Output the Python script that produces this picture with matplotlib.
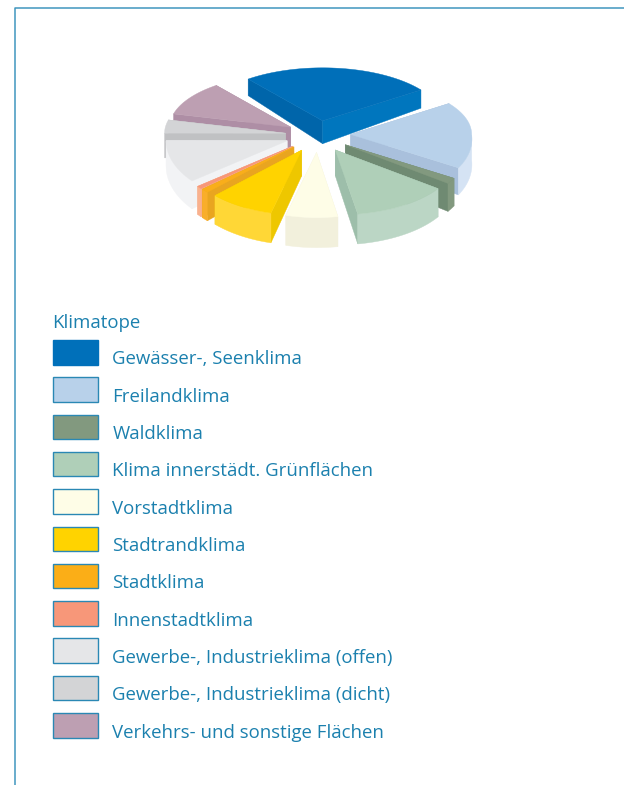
import numpy as np
import matplotlib
matplotlib.use('Agg')
import matplotlib.pyplot as plt
from matplotlib.patches import Polygon, Rectangle

title = 'Klimatope'
labels = ['Gewässer-, Seenklima', 'Freilandklima', 'Waldklima', 'Klima innerstädt. Grünflächen',
          'Vorstadtklima', 'Stadtrandklima', 'Stadtklima', 'Innenstadtklima',
          'Gewerbe-, Industrieklima (offen)', 'Gewerbe-, Industrieklima (dicht)',
          'Verkehrs- und sonstige Flächen']
# estimated shares in percent
shares = [25.6, 18.5, 1.5, 12.2, 6.7, 8.6, 1.0, 0.7, 10.6, 4.0, 10.4]

top_colors = ['#006FB9', '#B8D1EA', '#82997F', '#AFCFB8', '#FEFDE7', '#FFD300',
              '#F9AE1A', '#F79779', '#E5E6E8', '#D3D4D6', '#BD9FB2']
rim_colors = ['#0078C0', '#D5E3F4', '#82997F', '#BBD6C5', '#F2F0DC', '#FFD736',
              '#F9AE2A', '#F9B18E', '#F2F3F5', '#D3D4D6', '#BD9FB2']
side_colors = ['#0065AA', '#A9C0DC', '#6F8A72', '#9DBEAA', '#F2F0DC', '#EEC700',
               '#E9A520', '#F9B18E', '#F2F3F5', '#C0C1C3', '#AE8EA5']
end_side_colors = ['#0076BE', '#A9C0DC', '#6F8A72', '#9DBEAA', '#F2F0DC', '#EEC700',
                   '#E9A520', '#F9B18E', '#F2F3F5', '#C0C1C3', '#AE8EA5']
swatch_colors = ['#0070BA', '#B8D1EA', '#82997F', '#AFCFB8', '#FEFDE7', '#FFD300',
                 '#FBAE17', '#F79779', '#E5E6E8', '#D3D4D6', '#BD9FB2']
draw_order = [0, 10, 1, 9, 8, 2, 3, 7, 6, 5, 4]

start_angle = 128
explode = 0.27
cx, cy = 318, 135
rx, ry_back, ry_front = 121, 53, 65
text_color = '#1B80AE'
frame_color = '#4096BE'


def project(px, py):
    px, py = np.asarray(px, float), np.asarray(py, float)
    # front right of the pie is a little wider, the picture is not a clean ellipse
    x = cx + rx * px * np.where(px > 0, 1 - 0.06 * np.minimum(py, 0), 1)
    y = cy - py * np.where(py > 0, ry_back, ry_front)
    return x, y


def depth(py):
    py = np.asarray(py, float)
    return 25 - py * np.where(py > 0, 8, 4)


def face(ax, px, py, color):
    x1, y1 = project(px, py)
    y2 = y1 + depth(py)
    pts = np.column_stack([np.r_[x1, x1[::-1]], np.r_[y1, y2[::-1]]])
    ax.add_patch(Polygon(pts, closed=True, facecolor=color, edgecolor=color, linewidth=0.3))


fig = plt.figure(figsize=(6.24, 7.85), dpi=100)
ax = fig.add_axes([0, 0, 1, 1])
ax.set_xlim(0, 624)
ax.set_ylim(785, 0)
ax.axis('off')

# frame
ax.plot([15, 15, 624], [785, 8, 8], color=frame_color, lw=1.1)

# exploded pie, slices run clockwise
angles = start_angle - np.r_[0, np.cumsum(shares)] / np.sum(shares) * 360
for i in draw_order:
    t0, t1 = np.radians(angles[i]), np.radians(angles[i + 1])
    mid = (t0 + t1) / 2
    ox, oy = explode * np.cos(mid), explode * np.sin(mid)
    arc = np.linspace(t0, t1, 60)
    arc_x, arc_y = ox + np.cos(arc), oy + np.sin(arc)

    # the two cut faces, then the part of the rim facing the viewer, then the top
    for t, color in ((t0, side_colors[i]), (t1, end_side_colors[i])):
        face(ax, [ox, ox + np.cos(t)], [oy, oy + np.sin(t)], color)
    front = np.sin(arc) < 0
    if front.sum() > 1:
        face(ax, arc_x[front], arc_y[front], rim_colors[i])
    x, y = project(np.r_[ox, arc_x], np.r_[oy, arc_y])
    ax.add_patch(Polygon(np.column_stack([x, y]), closed=True, facecolor=top_colors[i],
                         edgecolor=top_colors[i], linewidth=0.3))

# legend
ax.text(52, 328, title, color=text_color, fontsize=13.4, family='Open Sans', va='baseline')
for i, label in enumerate(labels):
    top = 340 + i * 37.3
    edge = swatch_colors[0] if i == 0 else '#2A88B4'
    ax.add_patch(Rectangle((53, top), 45, 24.5, facecolor=swatch_colors[i], edgecolor=edge, linewidth=1))
    ax.text(112.5, top + 24.5, label, color=text_color, fontsize=13.4, family='Open Sans', va='baseline')

fig.savefig('out.png', dpi=100)
